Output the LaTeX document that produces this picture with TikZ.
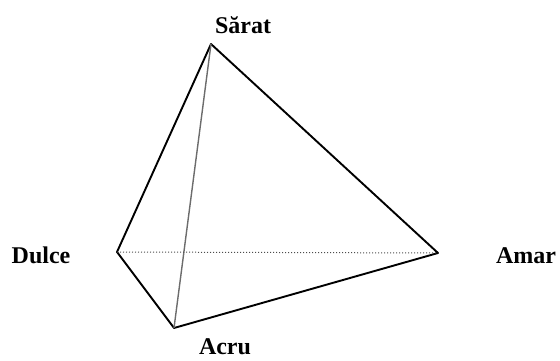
\documentclass[tikz,border=0pt]{standalone}
\usepackage{fontspec}
\setmainfont{Liberation Serif}
\begin{document}
\begin{tikzpicture}[x=1pt,y=-1pt]
    \useasboundingbox (0,0) rectangle (560,361);
    \tikzset{lbl/.style={inner sep=0pt, font=\fontsize{24}{26}\selectfont\bfseries}}

    % 四个顶点
    \coordinate (sarat) at (211,44);
    \coordinate (dulce) at (117,252);
    \coordinate (amar) at (438,253);
    \coordinate (acru) at (174,328);

    % 棱
    \draw[line width=1.9pt, line join=round] (dulce) -- (sarat) -- (amar) -- (acru) -- cycle;
    \draw[gray!85!black, line width=1.4pt] (sarat) -- (acru);
    \draw[gray!60!black, line width=1pt, dotted] (dulce) -- (amar);

    % 标签
    \node[lbl] (lsarat) at (243,25) {Sărat};
    \node[lbl] (ldulce) at (41,255) {Dulce};
    \node[lbl] (lamar) at (526,255.5) {Amar};
    \node[lbl] (lacru) at (225,347) {Acru};
\end{tikzpicture}
\end{document}
